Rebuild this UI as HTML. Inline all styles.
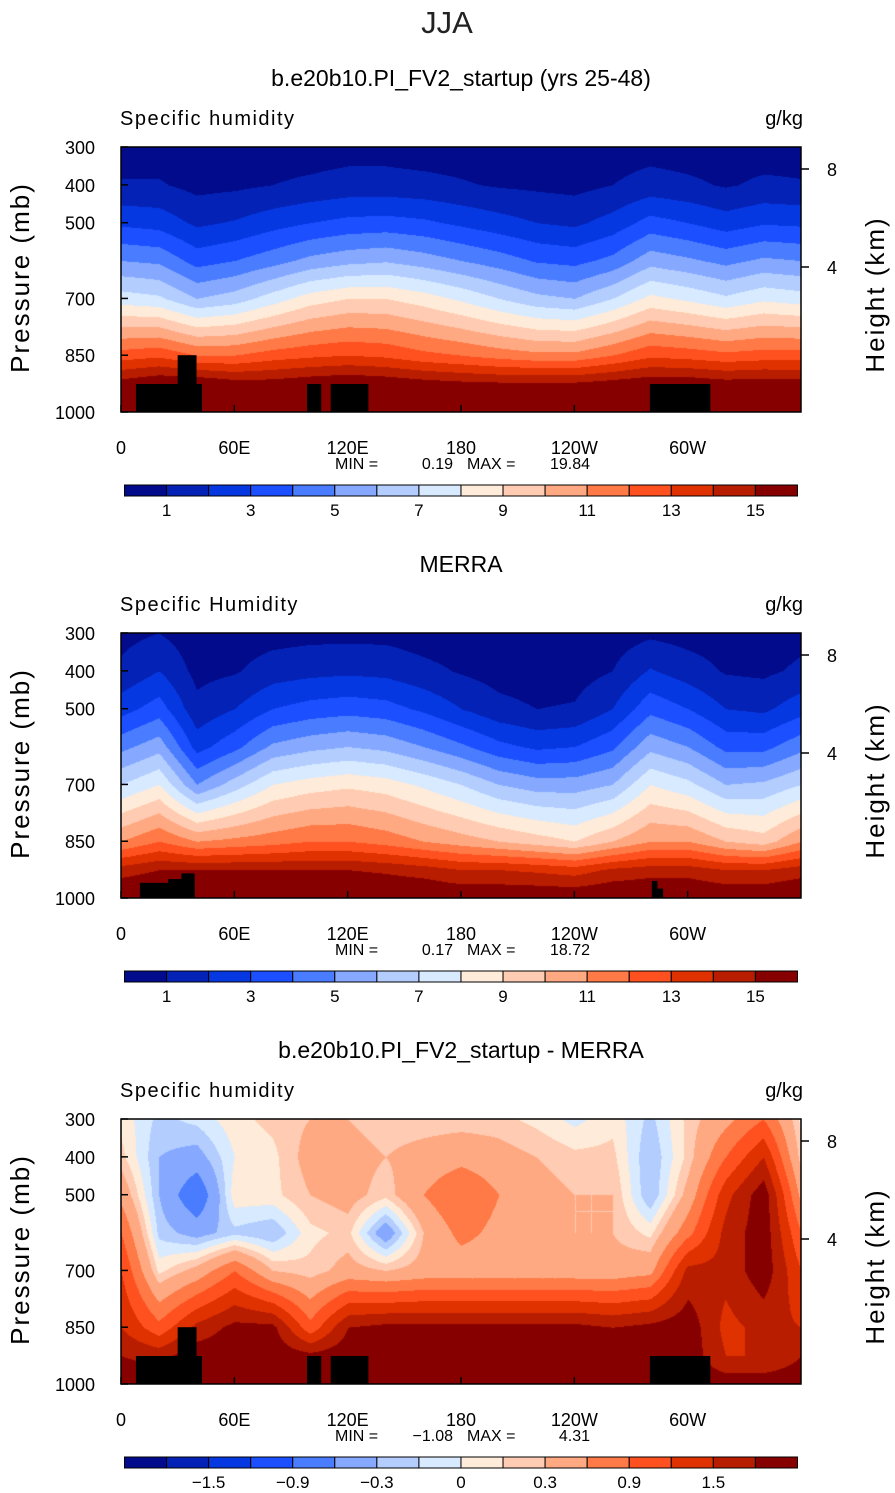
<!DOCTYPE html>
<html><head><meta charset="utf-8">
<style>
html,body{margin:0;padding:0;background:#fff;}
body{width:895px;height:1493px;position:relative;overflow:hidden;font-family:"Liberation Sans","DejaVu Sans",sans-serif;}
canvas{position:absolute;}
svg{position:absolute;left:0;top:0;}
</style></head>
<body>
<canvas id="c0" width="680" height="265" style="left:121px;top:147px"></canvas>
<canvas id="c1" width="680" height="265" style="left:121px;top:633px"></canvas>
<canvas id="c2" width="680" height="265" style="left:121px;top:1119px"></canvas>
<svg id="ov" width="895" height="1493"></svg>
<script>
const lons=[0,20,40,60,80,100,120,140,160,180,200,220,240,260,280,300,320,340,360];
const plevs=[300,400,500,600,700,850,925,1000];
const modelQ=[
[0.5,1.1,2.8,5.0,7.5,12.5,15.5,17],[0.5,1.1,2.6,4.8,7.2,12.8,16,17],[0.4,0.7,1.8,3.6,6,12,16,17],
[0.4,0.8,2.1,4.0,6.5,12,15.5,17],[0.5,1.0,2.6,4.6,7.5,12.5,15.5,17],[0.5,1.2,3.0,5.3,8.5,12.8,15.8,17],
[0.6,1.4,3.3,5.7,9,13,16,17],[0.6,1.4,3.4,5.9,9,12.8,15.8,17],[0.5,1.3,3.2,5.5,8.5,12.3,15.5,17],
[0.5,1.1,2.8,5.0,7.8,12,15.3,17],[0.4,0.9,2.4,4.5,7,11.6,15.2,17],[0.4,0.8,2.0,3.9,6.3,11.3,15.2,17],
[0.4,0.7,1.8,3.7,6,11.3,15.2,17],[0.5,1.0,2.4,4.3,7,12,15.5,17],[0.6,1.4,3.4,5.6,8.3,12.8,15.8,17],
[0.5,1.2,3.0,5.2,7.8,12.6,15.8,17],[0.5,0.9,2.5,4.7,7.2,12.3,15.5,17],[0.5,1.2,2.9,5.2,7.8,12.5,15.6,17],
[0.5,1.1,2.8,5.0,7.5,12.5,15.5,17]];
const merraQ=[
[0.7,1.2,2.6,4.7,7,11,14.5,16.3],[1.0,2.0,3.5,5.6,8,12,15,16.5],[0.4,0.7,1.3,2.6,5,11,15,16.5],
[0.5,0.9,2.0,3.7,6.5,11.3,15,16.5],[0.6,1.5,3.0,5.2,8,11.6,15,16.5],[0.7,1.7,3.4,5.7,8.5,12,15,16.5],
[0.7,1.8,3.6,6.0,8.8,12,15,16.5],[0.7,1.7,3.4,5.7,8.5,11.6,14.8,16.3],[0.5,1.3,2.8,5.0,7.8,11,14.5,16.2],
[0.4,0.9,2.0,4.2,7,10.5,14,16],[0.3,0.6,1.3,3.3,6,10,14,16],[0.3,0.5,1.0,2.8,5.5,9.5,13.8,16],
[0.3,0.6,1.1,3.0,5.5,9,13.5,16],[0.5,1.0,2.0,3.8,6,10,14.2,16.2],[0.8,2.1,3.7,5.7,8,11,14.5,16.3],
[0.6,1.5,3.0,5.0,7.3,11,14.5,16.3],[0.5,0.9,2.0,3.7,6,10,14,16],[0.4,0.8,1.8,3.7,6.2,9.5,14,16],
[0.7,1.2,2.6,4.7,7,11,14.5,16.3]];
const diffQ=[
[0.1,0.2,0.5,0.9,1.2,1.5,1.8,2],[-0.2,-0.3,-0.3,-0.2,0.1,1.0,1.7,2],[-0.1,-0.4,-0.9,-0.4,0.4,1.6,2,2],
[0.1,0.0,0.1,-0.2,0.9,1.9,2,2],[0.2,0.1,0.1,-0.3,0.3,1.9,2,2],[0.3,0.4,0.3,0.1,0.2,1.0,1.9,2],
[0.3,0.4,0.4,0.2,0.4,1.8,2,2],[0.2,0.3,0.2,-0.5,0.3,1.9,2,2],[0.2,0.4,0.6,0.3,0.4,1.9,2,2],
[0.2,0.5,0.9,0.7,0.4,1.9,2,2],[0.2,0.4,0.6,0.5,0.4,1.9,2,2],[0.1,0.3,0.4,0.4,0.4,1.9,2,2],
[-0.05,0.2,0.3,0.3,0.4,1.9,2,2],[0.1,0.2,0.3,0.3,0.4,1.8,2,2],[-0.2,-0.3,-0.3,0.1,0.5,1.9,1.9,2],
[0.2,0.2,0.4,0.8,1.6,2,2,2],[0.5,0.9,1.4,1.6,1.6,1.4,1.5,2],[0.9,1.5,2,2,2,1.6,1.5,2],
[0.1,0.2,0.5,0.9,1.2,1.5,1.8,2]];
const qLevels=[1,2,3,4,5,6,7,8,9,10,11,12,13,14,15];
const qLabels=["1","3","5","7","9","11","13","15"];
const dLevels=[-1.8,-1.5,-1.2,-0.9,-0.6,-0.3,-0.15,0,0.15,0.3,0.6,0.9,1.2,1.5,1.8];
const dLabels=["\u22121.5","\u22120.9","\u22120.3","0","0.3","0.9","1.5"];
const colors=["#020b8c","#0423b6","#0638e2","#1c4fff","#4a7cff","#86a9ff","#b3cdff","#d7eaff","#ffebd9","#ffcbb2","#ffa982","#ff7a46","#ff5020","#e03100","#b81d00","#870000"];
const topo1=[[7.9,42.9,926],[30,40,850],[98.5,106,926],[111,131,926],[280,312,926]];
const topo2=[[10,39,960],[25,33,950],[32,39,935],[281,284,955],[282,287,975]];
const xTickLons=[0,60,120,180,240,300];
const xTickLabels=["0","60E","120E","180","120W","60W"];
const yTicks=[300,400,500,700,850,1000];
const hTicks=[[8,169],[4,267]];
const minmax=[["0.19","19.84"],["0.17","18.72"],["\u22121.08","4.31"]];

const W=680,H=265;
function yOf(p){return (p-300)/700*H;}
function xOf(l){return l/360*W;}
function fill(id,grid,levels){
  const cv=document.getElementById(id),ctx=cv.getContext('2d');
  const img=ctx.createImageData(W,H);
  const rgb=colors.map(c=>[parseInt(c.substr(1,2),16),parseInt(c.substr(3,2),16),parseInt(c.substr(5,2),16)]);
  for(let y=0;y<H;y++){
    const p=300+y/H*700;
    let j=0;while(j<plevs.length-2&&p>plevs[j+1])j++;
    const ty=(p-plevs[j])/(plevs[j+1]-plevs[j]);
    for(let x=0;x<W;x++){
      const l=x/W*360;let i=Math.min(Math.floor(l/20),lons.length-2);
      const tx=(l-lons[i])/20;
      const a=grid[i][j]*(1-ty)+grid[i][j+1]*ty,b=grid[i+1][j]*(1-ty)+grid[i+1][j+1]*ty;
      const v=a*(1-tx)+b*tx;
      let k=0;while(k<levels.length&&v>=levels[k])k++;
      const o=(y*W+x)*4;img.data[o]=rgb[k][0];img.data[o+1]=rgb[k][1];img.data[o+2]=rgb[k][2];img.data[o+3]=255;
    }
  }
  ctx.putImageData(img,0,0);
}
fill('c0',modelQ,qLevels);fill('c1',merraQ,qLevels);fill('c2',diffQ,dLevels);

const NS="http://www.w3.org/2000/svg",ov=document.getElementById('ov');
function el(tag,attrs,txt){const e=document.createElementNS(NS,tag);for(const k in attrs)e.setAttribute(k,attrs[k]);if(txt!==undefined)e.textContent=txt;ov.appendChild(e);return e;}
let t=el('text',{x:447,y:33,'font-size':31,'text-anchor':'middle','font-weight':'300',fill:'#222'},'JJA');


const titles=["b.e20b10.PI_FV2_startup (yrs 25-48)","MERRA","b.e20b10.PI_FV2_startup - MERRA"];
const varNames=["Specific humidity","Specific Humidity","Specific humidity"];
const topos=[topo1,topo2,topo1];
for(let n=0;n<3;n++){
  const off=n*486,top=147+off,L=121;
  t=el('text',{x:461,y:86+off,'font-size':23,'text-anchor':'middle'},titles[n]);
  
  
  t=el('text',{x:120,y:125+off,'font-size':20,'letter-spacing':'1.5'},varNames[n]);
  
  
  t=el('text',{x:803,y:125+off,'font-size':20,'text-anchor':'end'},'g/kg');
  
  
  for(const tp of topos[n]){
    const r=el('rect',{x:L+xOf(tp[0]),y:top+yOf(tp[2]),width:xOf(tp[1]-tp[0]),height:H-yOf(tp[2]),fill:'#000'});
    
    
  }
  const fr=el('rect',{x:L,y:top,width:W,height:H,fill:'none',stroke:'#000','stroke-width':1.5});
  
  
  for(let i=0;i<yTicks.length;i++){
    const y=top+yOf(yTicks[i]);
    el('line',{x1:L,x2:L+7,y1:y,y2:y,stroke:'#000','stroke-width':1.5});
    t=el('text',{x:95,y:y+7,'font-size':18,'text-anchor':'end'},String(yTicks[i]));
    
    
  }
  for(const h of hTicks){
    const y=h[1]+off;
    el('line',{x1:L+W,x2:L+W+8,y1:y,y2:y,stroke:'#000','stroke-width':1.5});
    t=el('text',{x:827,y:y+7,'font-size':18},String(h[0]));
    
    
  }
  for(let i=0;i<xTickLons.length;i++){
    const x=L+xOf(xTickLons[i]);
    el('line',{x1:x,x2:x,y1:top+H,y2:top+H-7,stroke:'#000','stroke-width':1.5});
    t=el('text',{x:x,y:top+H+42,'font-size':18,'text-anchor':'middle'},xTickLabels[i]);
    
    
  }
  t=el('text',{x:0,y:0,'font-size':26,'text-anchor':'middle','letter-spacing':'2',transform:`translate(29,${top+H/2-2}) rotate(-90)`},'Pressure (mb)');
  
  
  t=el('text',{x:0,y:0,'font-size':26,'text-anchor':'middle','letter-spacing':'2',transform:`translate(884,${top+H/2+15}) rotate(-90)`},'Height (km)');
  
  
  const my=top+H+57;
  t=el('text',{x:335,y:my,'font-size':16},'MIN =');
  
  
  t=el('text',{x:453,y:my,'font-size':16,'text-anchor':'end'},minmax[n][0]);
  
  
  t=el('text',{x:467,y:my,'font-size':16},'MAX =');
  
  
  t=el('text',{x:590,y:my,'font-size':16,'text-anchor':'end'},minmax[n][1]);
  
  
  const cy=485+off,bw=42.06;
  for(let k=0;k<16;k++){
    const r=el('rect',{x:124.5+k*bw,y:cy,width:bw,height:11,fill:colors[k],stroke:'#000','stroke-width':1});
    
    
  }
  const labs=n<2?qLabels:dLabels,start=n<2?1:2;
  for(let i=0;i<labs.length;i++){
    const x=124.5+(start+2*i)*bw;
    t=el('text',{x:x,y:cy+31,'font-size':17,'text-anchor':'middle'},labs[i]);
    
    
  }
}
</script>
</body></html>
